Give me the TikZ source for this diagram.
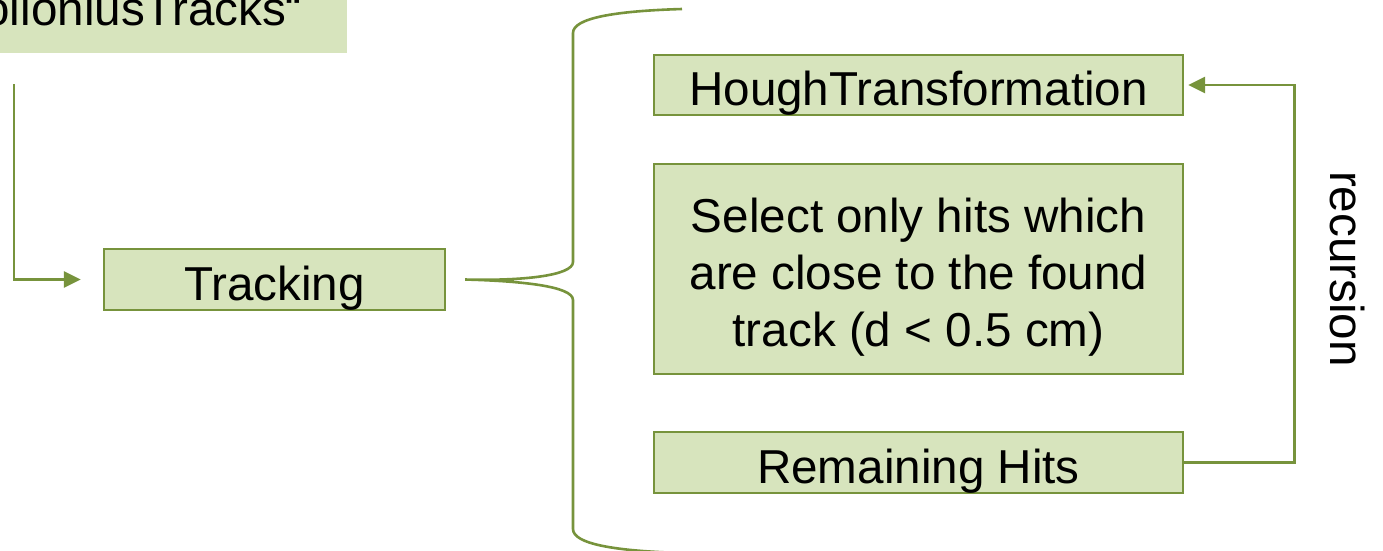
\documentclass[tikz,border=0pt]{standalone}
\usepackage{fontspec}
\setmainfont{Liberation Sans}
\usetikzlibrary{arrows.meta}
\definecolor{olive}{HTML}{77933C}
\definecolor{olivefill}{HTML}{D7E4BD}
\tikzset{
  bigfont/.style={font=\fontsize{47.6}{57}\selectfont},
  greenbox/.style={draw=olive, line width=2.4pt, fill=olivefill, inner sep=0pt, bigfont, align=center, text height=44pt, text depth=3pt},
  conn/.style={draw=olive, line width=2.6pt},
  arr/.style={conn, -{Triangle[length=17pt,width=16pt]}}
}
\begin{document}
\begin{tikzpicture}[x=1pt,y=-1pt]
\useasboundingbox (0,0) rectangle (1383,550);
\clip (0,0) rectangle (1383,550);
% top (clipped) box
\fill[olivefill] (-420,-60) rectangle (347,53);
\node[bigfont, anchor=base east, inner sep=0pt] (apo) at (302,25) {„ApolloniusTracks“};
% boxes
\node[greenbox, minimum width=341pt, minimum height=61pt] (trk) at (274.5,279.5) {Tracking};
\node[greenbox, minimum width=529pt, minimum height=60pt] (hough) at (918.5,85) {HoughTransformation};
\node[greenbox, text height=158pt, minimum width=529pt, minimum height=210pt] (sel) at (918.5,269) {Select only hits which\\are close to the found\\track (d < 0.5 cm)};
\node[greenbox, minimum width=529pt, minimum height=61pt] (rem) at (918.5,462.5) {Remaining Hits};
\node[bigfont, rotate=-90, inner sep=0pt] (rec) at (1347,269) {recursion};
% connectors
\coordinate (s) at (14,84);
\draw[arr] (s) |- ([xshift=-22pt]trk.west);
\draw[arr, shorten >=4pt] (rem.east) -- ++(110,0) |- (hough.east);
% brace
\coordinate (btip) at ([xshift=19pt]trk.east);
\draw[conn] (682,9) .. controls (615,11) and (573,18) .. (573,33)
  -- (573,262) .. controls (573,276) and (520,281) .. (btip)
  .. controls (520,281) and (573,286) .. (573,300)
  -- (573,529) .. controls (573,544) and (615,551) .. (682,553);
\end{tikzpicture}
\end{document}
